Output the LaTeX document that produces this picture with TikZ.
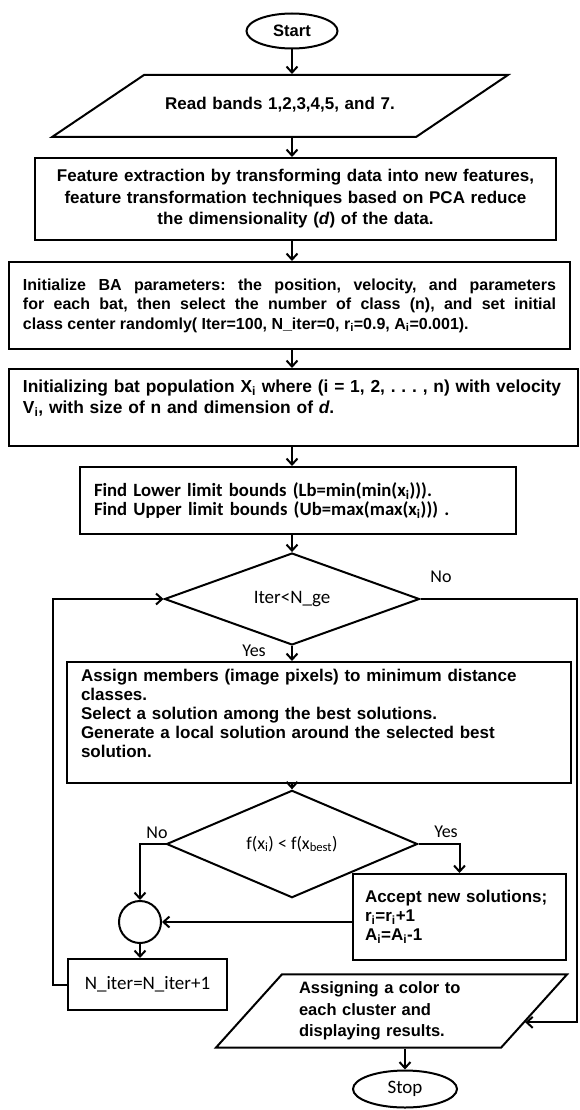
\documentclass[tikz,border=0pt]{standalone}
\usepackage{fontspec}
\setmainfont{Liberation Sans}
\newfontfamily\calibri{Carlito}
\usetikzlibrary{shapes.geometric, arrows.meta}
\usetikzlibrary{positioning, calc}
\frenchspacing

\tikzstyle{startstop} = [ellipse, draw=black, line width=2pt, inner sep=0pt]
\tikzstyle{io} = [trapezium, draw=black, line width=2pt]
\tikzstyle{process} = [rectangle, draw=black, line width=2pt, inner xsep=14pt, inner ysep=0pt, align=left]
\tikzstyle{decision} = [diamond, draw=black, line width=2pt, inner sep=0pt]
\tikzstyle{joint} = [circle, draw=black, line width=2pt, minimum size=42pt, inner sep=0pt]
\tikzstyle{arrow} = [line width=2pt, -{Straight Barb[length=6pt,width=11pt]}]
\tikzstyle{answer} = [font=\calibri\fontsize{18}{20}\selectfont]

\begin{document}
\begin{tikzpicture}[x=1pt, y=-1pt]
    \useasboundingbox (0,0) rectangle (579,1110);

    \node[startstop, minimum width=91pt, minimum height=35pt, font=\bfseries\fontsize{16.5}{20}\selectfont] (start) at (292,31) {Start};

    \node[io, trapezium left angle=34, trapezium right angle=146, inner xsep=14pt, inner ysep=23pt, text width=244pt, text height=12pt, text depth=4pt, align=center, font=\bfseries\fontsize{17}{21}\selectfont] (read) at (280,106) {Read bands 1,2,3,4,5, and 7.};

    \node[process, align=center, text width=493pt, minimum height=82pt, font=\bfseries\fontsize{17}{21.5}\selectfont] (feat) at (295.5,199) {Feature extraction by transforming data into new features,\\ feature transformation techniques based on PCA reduce\\ the dimensionality (\textit{d}) of the data.};

    \node[process, align=justify, text width=533pt, minimum height=87pt, font=\bfseries\fontsize{16}{19.5}\selectfont] (init) at (289.5,305.5) {Initialize BA parameters: the position, velocity, and parameters\linebreak for each bat, then select the number of class (n), and set initial\linebreak class center randomly( Iter=100, N\_iter=0, r\textsubscript{i}=0.9, A\textsubscript{i}=0.001).};

    \node[process, text width=541pt, minimum height=77pt, font=\bfseries\fontsize{17.4}{21}\selectfont] (pop) at (293.5,407.5) {Initializing bat population X\textsubscript{i} where (i = 1, 2, . . . , n) with velocity\\ V\textsubscript{i}, with size of n and dimension of \textit{d}.\\ \mbox{}};

    \node[process, text width=408pt, minimum height=67pt, font=\calibri\bfseries\fontsize{18.7}{18.5}\selectfont] (bounds) at (298,500.5) {Find Lower limit bounds (Lb=min(min(x\textsubscript{i}))).\\ Find Upper limit bounds (Ub=max(max(x\textsubscript{i}))) .};

    \node[decision, minimum width=255pt, minimum height=84pt, font=\calibri\fontsize{19}{22}\selectfont] (iter) at (292,599) {Iter<N\_ge};

    \node[process, text width=476pt, minimum height=121pt, font=\bfseries\fontsize{17}{19}\selectfont] (assign) at (319,722.5) {Assign members (image pixels) to minimum distance\\ classes.\\ Select a solution among the best solutions.\\ Generate a local solution around the selected best\\ solution.\\ \mbox{}};

    \node[decision, minimum width=251pt, minimum height=82pt, font=\calibri\fontsize{18}{20}\selectfont] (fit) at (292,844) {f(x\textsubscript{i}) < f(x\textsubscript{best})};

    \node[process, inner xsep=12pt, text width=189pt, minimum height=86pt, font=\bfseries\fontsize{17}{19}\selectfont] (accept) at (459.5,917) {Accept new solutions;\\ r\textsubscript{i}=r\textsubscript{i}+1\\ A\textsubscript{i}=A\textsubscript{i}-1};

    \node[joint] (merge) at (140,922) {};

    \node[process, align=center, text width=131pt, minimum height=51pt, font=\calibri\fontsize{19}{22}\selectfont] (niter) at (147.5,984.5) {N\_iter=N\_iter+1};

    \node[io, trapezium left angle=48, trapezium right angle=132, inner xsep=17pt, inner ysep=7.5pt, text width=185pt, align=left, font=\bfseries\fontsize{16.5}{21.5}\selectfont] (show) at (391.5,1011) {Assigning a color to\\ each cluster and\\ displaying results.};

    \node[startstop, minimum width=104pt, minimum height=37pt, font=\calibri\fontsize{19}{22}\selectfont] (stop) at (405,1089) {Stop};

    % answers at the branches
    \node[answer] (iterno) at (441,577) {No};
    \node[answer] (iteryes) at (254,651) {Yes};
    \node[answer] (fitno) at (157,833) {No};
    \node[answer] (fityes) at (446,832) {Yes};

    \coordinate (edge) at (577,599);
    \coordinate (showin) at ($(show.top right corner)!0.65!(show.bottom right corner)$);

    \draw [arrow] (start.south) -- (start.south |- read.north);
    \draw [arrow] (read.south -| start) -- (feat.north -| start);
    \draw [arrow] (feat.south -| start) -- (init.north -| start);
    \draw [arrow] (init.south -| start) -- (pop.north -| start);
    \draw [arrow] (pop.south -| start) -- (bounds.north -| start);
    \draw [arrow] (bounds.south -| iter) -- (iter.north);
    \draw [arrow] (iter.south) -- (assign.north -| iter);
    \draw [arrow] (assign.south -| fit) -- (fit.north);
    \draw [arrow] (fit.west) -| (merge.north);
    \draw [arrow] (fit.east) -| (accept.north);
    \draw [arrow] (accept.west |- merge.east) -- (merge.east);
    \draw [arrow] (merge.south) -- (merge.south |- niter.north);
    \draw [arrow] (niter.west) -- ++(-14,0) |- (iter.west);
    \draw [arrow] (iter.east) -- (edge) |- (showin);
    \draw [arrow] (stop.north |- show.south) -- (stop.north);

\end{tikzpicture}
\end{document}
